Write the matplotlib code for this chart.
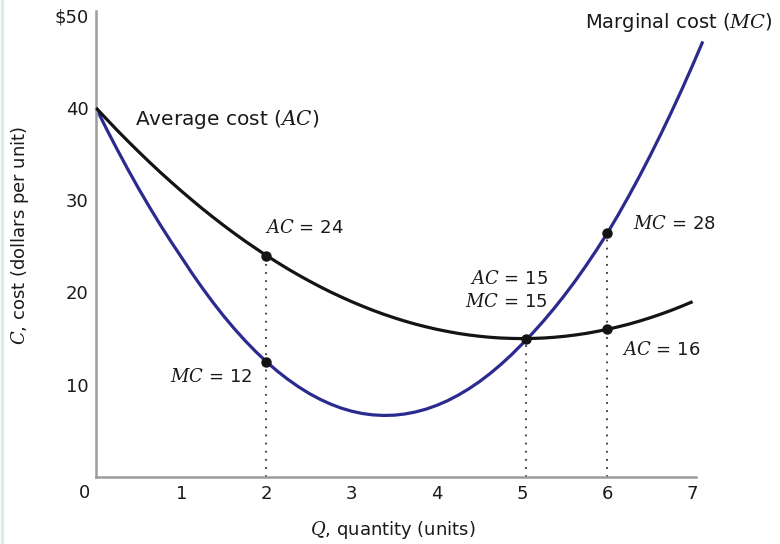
import matplotlib
matplotlib.use('Agg')
import matplotlib.pyplot as plt
from matplotlib.lines import Line2D

plt.rcParams['font.family'] = ['DejaVu Sans']
plt.rcParams['mathtext.fontset'] = 'dejavuserif'

# quantity (units)
q = [0, 0.125, 0.25, 0.375, 0.5, 0.625, 0.75, 0.875, 1, 1.125, 1.25, 1.375, 1.5,
     1.625, 1.75, 1.875, 2, 2.125, 2.25, 2.375, 2.5, 2.625, 2.75, 2.875, 3,
     3.125, 3.25, 3.375, 3.5, 3.625, 3.75, 3.875, 4, 4.125, 4.25, 4.375, 4.5,
     4.625, 4.75, 4.875, 5, 5.125, 5.25, 5.375, 5.5, 5.625, 5.75, 5.875, 6,
     6.125, 6.25, 6.375, 6.5, 6.625, 6.75, 6.875, 7]
# average cost
ac = [40, 38.77, 37.56, 36.39, 35.25, 34.14, 33.06, 32.02, 31, 30.02, 29.06,
      28.14, 27.25, 26.39, 25.56, 24.77, 24, 23.27, 22.56, 21.89, 21.25, 20.64,
      20.06, 19.52, 19, 18.52, 18.06, 17.64, 17.25, 16.89, 16.56, 16.27, 16,
      15.77, 15.56, 15.39, 15.25, 15.14, 15.06, 15.02, 15, 15.02, 15.06, 15.14,
      15.25, 15.39, 15.56, 15.77, 16, 16.27, 16.56, 16.89, 17.25, 17.64, 18.06,
      18.52, 19]
# marginal cost (runs a little past Q = 7)
q_mc = q + [7.12]
mc = [40, 37.69, 35.47, 33.32, 31.26, 29.29, 27.39, 25.58, 23.85, 22.10, 20.45,
      18.89, 17.42, 16.05, 14.77, 13.58, 12.49, 11.49, 10.59, 9.78, 9.06, 8.44,
      7.91, 7.47, 7.13, 6.88, 6.73, 6.67, 6.70, 6.83, 7.05, 7.36, 7.77, 8.27,
      8.87, 9.56, 10.34, 11.22, 12.19, 13.25, 14.41, 15.61, 16.90, 18.27, 19.73,
      21.27, 22.91, 24.63, 26.43, 28.38, 30.43, 32.56, 34.79, 37.11, 39.52,
      42.02, 44.62, 47.2]

# marked points
pt_q = [2, 2, 5.05, 6, 6]
pt_c = [24, 12.5, 15, 16, 26.4]
# dotted drop lines (quantity, top value)
drop_q = [2, 5.05, 6]
drop_top = [24, 15, 26.4]

xticks = [1, 2, 3, 4, 5, 6, 7]
yticks = [10, 20, 30, 40, 50]
ytick_labels = ['10', '20', '30', '40', '$50']

fig = plt.figure(figsize=(7.8, 5.44), dpi=100)
ax = fig.add_axes([96/780, 1-477/544, 600/780, 466/544])

blue = '#2b2b8f'
black = '#141414'

for xq, top in zip(drop_q, drop_top):
    ax.plot([xq, xq], [0, top], color='#333333', lw=1.3,
            linestyle=(0, (1, 3.5)), zorder=1)

ax.plot(q_mc, mc, color=blue, lw=2.3, solid_capstyle='butt', zorder=2, clip_on=False)
ax.plot(q, ac, color=black, lw=2.3, solid_capstyle='butt', zorder=3)
ax.plot(pt_q, pt_c, 'o', color=black, ms=6.5, zorder=4)

ax.set_xlim(0, 7.04)
ax.set_ylim(0, 50.5)
ax.set_xticks(xticks)
ax.set_xticklabels([str(t) for t in xticks])
ax.set_yticks(yticks)
ax.set_yticklabels(ytick_labels)
ax.tick_params(length=0, labelsize=13, colors='#1a1a1a')
ax.tick_params(axis='x', pad=5.5)
ax.tick_params(axis='y', pad=5.5)
ax.text(-0.13, -1.75, '0', fontsize=13, color='#1a1a1a', ha='center', va='center', clip_on=False)

for s in ['top', 'right']:
    ax.spines[s].set_visible(False)
for s in ['left', 'bottom']:
    ax.spines[s].set_color('#9c9c9c')
    ax.spines[s].set_linewidth(1.8)

tc = '#1a1a1a'
ax.text(0.46, 38.7, 'Average cost ($AC$)', fontsize=14.5, color=tc, va='center')
ax.text(7.94, 49.3, 'Marginal cost ($MC$)', fontsize=14, color=tc, va='center',
        ha='right', clip_on=False)
ax.text(1.98, 27.0, '$AC$ = 24', fontsize=13, color=tc, va='center')
ax.text(1.83, 10.8, '$MC$ = 12', fontsize=13, color=tc, va='center', ha='right')
ax.text(5.30, 21.5, '$AC$ = 15', fontsize=13, color=tc, va='center', ha='right')
ax.text(5.30, 19.0, '$MC$ = 15', fontsize=13, color=tc, va='center', ha='right')
ax.text(6.17, 13.8, '$AC$ = 16', fontsize=13, color=tc, va='center')
ax.text(6.30, 27.4, '$MC$ = 28', fontsize=13, color=tc, va='center')

fig.text(393/780, 1-530/544, '$Q$, quantity (units)', fontsize=13, color=tc,
         ha='center', va='center')
fig.text(20/780, 1-235/544, '$C$, cost (dollars per unit)', fontsize=13, color=tc,
         ha='center', va='center', rotation=90)

# thin tinted strip on the left edge
fig.add_artist(Line2D([0.002, 0.002], [0, 1], color='#d8eee8', lw=2.5,
                      transform=fig.transFigure))

fig.savefig('out.png', dpi=100)
